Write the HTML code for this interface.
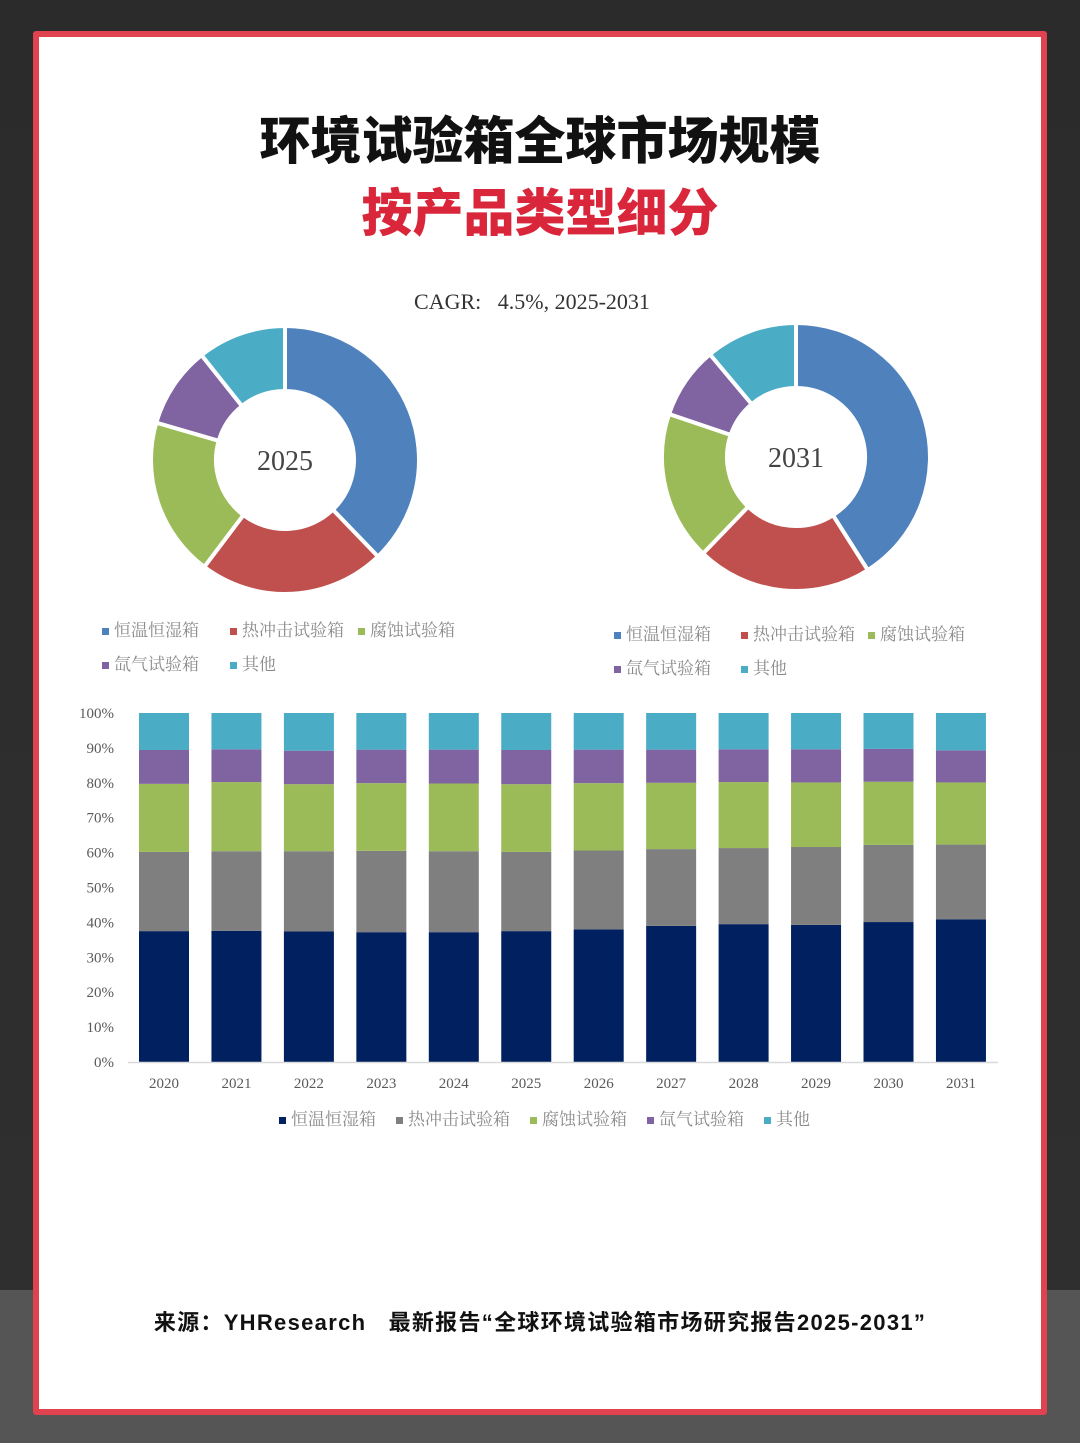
<!DOCTYPE html>
<html><head><meta charset="utf-8"><style>
html,body{margin:0;padding:0}
body{width:1080px;height:1443px;position:relative;overflow:hidden;background:linear-gradient(#2b2b2b 0,#2f2f2f 1290px,#555 1290px,#555 100%)}
#frame{position:absolute;left:33px;top:31px;width:1002px;height:1372px;border:6px solid #e0424f;background:#fff;border-radius:3px}
.t{position:absolute;left:0;width:1080px;text-align:center;font-family:"Liberation Sans","Noto Sans CJK SC",sans-serif;font-weight:900}
svg text{font-family:"Liberation Serif","Noto Serif CJK SC",serif}
</style></head><body>
<div id="frame"></div>
<div class="t" style="top:100px;font-size:51px;color:#111">环境试验箱全球市场规模</div>
<div class="t" style="top:172px;font-size:51px;color:#d9263b">按产品类型细分</div>
<div class="t" style="top:1305px;font-size:22px;color:#111;font-weight:700;letter-spacing:1.3px">来源：YHResearch&nbsp;&nbsp;&nbsp;最新报告“全球环境试验箱市场研究报告2025-2031”</div>
<svg id="c" width="1080" height="1443" style="position:absolute;left:0;top:0"></svg>
<script>
const seriesNames=["恒温恒湿箱","热冲击试验箱","腐蚀试验箱","氙气试验箱","其他"];
const pie2025=[37.8,22.5,19.2,9.8,10.7];
const pie2031=[41.0,21.2,18.0,8.7,11.1];
const years=["2020","2021","2022","2023","2024","2025","2026","2027","2028","2029","2030","2031"];
const s1=[37.5,37.6,37.4,37.2,37.2,37.5,38.0,39.0,39.5,39.3,40.1,40.9];
const s2=[22.7,22.8,23.0,23.3,23.2,22.7,22.6,22.0,21.8,22.3,22.1,21.4];
const s3=[19.5,19.8,19.2,19.4,19.4,19.4,19.3,19.0,18.9,18.5,18.1,17.8];
const s4=[9.7,9.4,9.6,9.6,9.7,9.8,9.6,9.5,9.4,9.5,9.4,9.2];
const s5=[10.6,10.4,10.8,10.5,10.5,10.6,10.5,10.5,10.4,10.4,10.3,10.7];
const yTicks=["0%","10%","20%","30%","40%","50%","60%","70%","80%","90%","100%"];
const pieColors=["#4f81bd","#c0504d","#9bbb59","#8064a2","#4bacc6"];
const barColors=["#002060","#7f7f7f","#9bbb59","#8064a2","#4bacc6"];
const svg=document.getElementById('c');const NS='http://www.w3.org/2000/svg';
function mk(t,a,p){const e=document.createElementNS(NS,t);for(const k in a)e.setAttribute(k,a[k]);(p||svg).appendChild(e);return e;}
function txt(x,y,s,size,fill,anchor){const e=mk('text',{x:x,y:y,'font-size':size,fill:fill,'text-anchor':anchor||'start'});e.textContent=s;return e;}
const c=txt(532,309,'CAGR:\u00a0\u00a0\u00a04.5%,\u00a02025-2031',22,'#333','middle');


function donut(cx,cy,vals,label,nm){
 const tot=vals.reduce((a,b)=>a+b,0);let a0=0;const R=134,r=69;
 vals.forEach((v,i)=>{const a1=a0+v/tot*2*Math.PI;
  const p=(a,rr)=>[cx+rr*Math.sin(a),cy-rr*Math.cos(a)];
  const [x1,y1]=p(a0,R),[x2,y2]=p(a1,R),[x3,y3]=p(a1,r),[x4,y4]=p(a0,r);const lg=a1-a0>Math.PI?1:0;
  const e=mk('path',{d:`M${x1},${y1}A${R},${R} 0 ${lg} 1 ${x2},${y2}L${x3},${y3}A${r},${r} 0 ${lg} 0 ${x4},${y4}Z`,fill:pieColors[i],stroke:'#fff','stroke-width':4});
  
  
  a0=a1;});
 const t=txt(cx,cy+10,label,28,'#444','middle');
 
 
}
donut(285,460,pie2025,'2025','donut-2025');
donut(796,457,pie2031,'2031','donut-2031');
function legend(items,y,colors,nm){items.forEach(it=>{
 mk('rect',{x:it[0],y:y-7,width:7,height:7,fill:colors[it[1]]});
 const t=txt(it[0]+12,y+1,seriesNames[it[1]],17,'#8a8a8a');
 
 });}
legend([[102,0],[230,1],[358,2]],635,pieColors,'legend-2025');
legend([[102,3],[230,4]],669,pieColors,'legend-2025');
legend([[614,0],[741,1],[868,2]],639,pieColors,'legend-2031');
legend([[614,3],[741,4]],673,pieColors,'legend-2031');
const y0=1062,yH=349,x0=139,step=72.45,bw=50;
const Y=v=>y0-v/100*yH, X=i=>x0+i*step;
yTicks.forEach((s,i)=>{const t=txt(114,Y(i*10)+5,s,15,'#595959','end');
 
 });
const series=[s1,s2,s3,s4,s5];
years.forEach((yr,i)=>{let acc=0;series.forEach((s,k)=>{const v=s[i];
 const b=mk('rect',{x:X(i),y:Y(acc+v),width:bw,height:Y(acc)-Y(acc+v),fill:barColors[k]});
 
 
 acc+=v;});
 const t=txt(X(i)+bw/2,1088,yr,15,'#595959','middle');
 
 });
const ax=mk('line',{x1:128,x2:998,y1:y0+0.5,y2:y0+0.5,stroke:'#d9d9d9','stroke-width':1.5});


legend([[279,0],[396,1],[530,2],[647,3],[764,4]],1124,barColors,'bar-legend');
</script>
</body></html>
